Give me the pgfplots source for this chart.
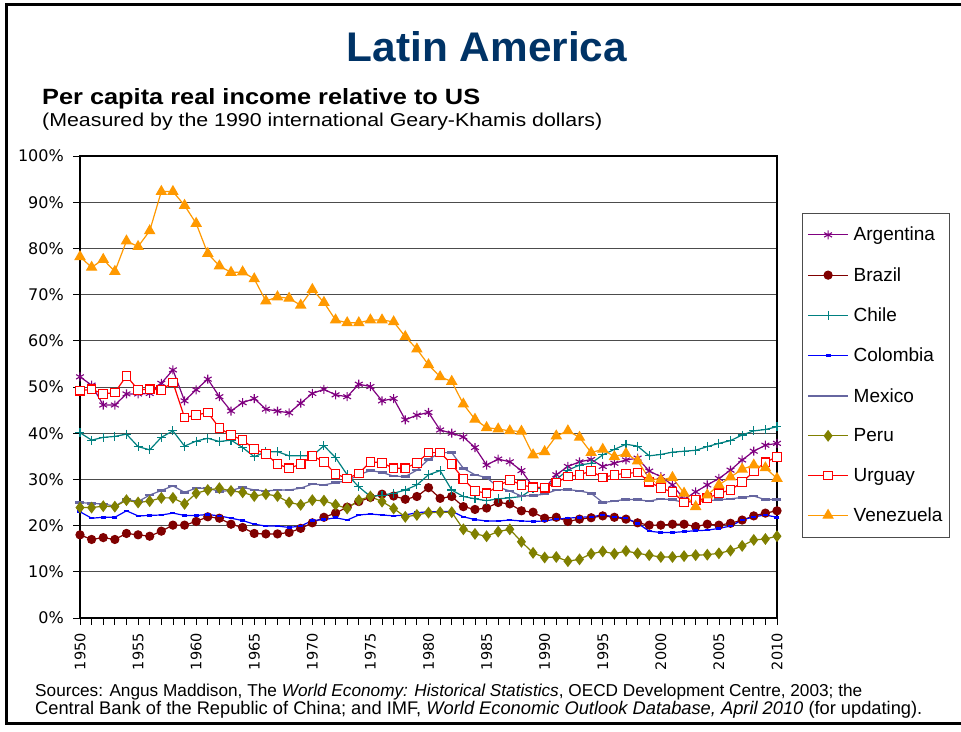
\documentclass[border=0pt]{standalone}
\usepackage{fontspec}
\setmainfont{Liberation Sans}
\newfontfamily\dejavu{DejaVu Sans}
\usepackage{pgfplots}
\usepackage{pgfplotstable}
\pgfplotsset{compat=1.18}
\definecolor{cArg}{RGB}{128,0,128}
\definecolor{cBra}{RGB}{128,0,0}
\definecolor{cChi}{RGB}{0,128,128}
\definecolor{cCol}{RGB}{0,0,255}
\definecolor{cMex}{RGB}{102,102,160}
\definecolor{cPer}{RGB}{128,128,0}
\definecolor{cUru}{RGB}{255,0,0}
\definecolor{cVen}{RGB}{255,153,0}
\definecolor{navy}{RGB}{0,51,102}
\pgfplotstableread{
year arg bra chi col mex per uru ven
1950 52.2 18.0 40.1 23.0 25.0 23.9 49.2 78.2
1951 50.4 17.0 38.5 21.6 24.8 23.9 49.5 75.9
1952 46.1 17.4 39.1 21.8 24.7 24.2 48.5 77.6
1953 46.1 17.0 39.3 21.8 24.2 24.1 48.8 75.0
1954 48.5 18.3 39.8 23.2 25.7 25.5 52.4 81.6
1955 48.5 18.0 37.1 22.1 25.2 25.0 49.4 80.4
1956 48.6 17.7 36.4 22.2 26.6 25.3 49.5 83.8
1957 50.8 18.8 39.1 22.3 27.6 26.0 49.4 92.3
1958 53.7 20.1 40.5 22.7 28.6 26.0 51.0 92.3
1959 47.0 20.1 37.2 22.2 27.2 24.7 43.4 89.3
1960 49.4 20.9 38.3 22.2 28.1 27.0 43.9 85.4
1961 51.7 21.9 38.9 22.4 28.1 27.7 44.5 78.9
1962 47.9 21.6 38.2 22.1 27.4 28.1 41.1 76.2
1963 44.8 20.3 38.5 21.6 27.6 27.5 39.6 74.8
1964 46.6 19.6 36.9 21.1 28.3 27.2 38.5 74.9
1965 47.5 18.3 34.9 20.3 27.7 26.4 36.6 73.4
1966 45.2 18.2 36.0 19.9 27.5 26.8 35.5 68.6
1967 44.8 18.2 36.0 19.9 27.7 26.4 33.3 69.5
1968 44.4 18.5 35.1 19.6 27.7 25.0 32.4 69.2
1969 46.5 19.4 35.1 19.9 28.1 24.5 33.3 67.7
1970 48.6 20.6 35.1 21.1 29.0 25.5 35.1 71.1
1971 49.5 21.8 37.3 21.3 28.8 25.4 33.8 68.3
1972 48.3 22.7 34.7 21.7 29.3 24.5 31.2 64.5
1973 47.9 24.0 31.0 21.2 29.7 23.7 30.2 63.9
1974 50.6 25.2 28.4 22.3 31.0 25.5 31.3 63.9
1975 50.1 26.1 26.3 22.5 31.9 26.3 33.8 64.5
1976 47.0 26.8 26.6 22.3 31.5 25.2 33.6 64.5
1977 47.5 26.4 27.0 22.1 30.7 23.7 32.4 64.1
1978 42.9 25.7 27.7 22.3 30.6 21.9 32.4 60.9
1979 43.9 26.3 28.8 22.8 32.0 22.3 33.6 58.2
1980 44.5 28.2 31.0 23.0 34.3 22.8 35.8 54.8
1981 40.7 25.9 31.9 23.0 35.8 22.9 35.8 52.2
1982 40.0 26.3 27.7 23.1 35.8 22.9 33.3 51.2
1983 39.2 24.1 26.3 21.9 32.4 19.2 30.1 46.3
1984 36.9 23.5 25.8 21.3 31.0 18.2 27.5 43.0
1985 33.1 23.8 25.4 21.0 30.4 17.7 27.0 41.2
1986 34.4 25.0 25.8 21.0 28.3 18.7 28.6 40.9
1987 33.8 24.7 26.0 21.2 27.5 19.2 29.9 40.5
1988 31.9 23.2 26.3 21.0 26.4 16.5 28.8 40.4
1989 28.4 22.9 28.0 20.9 26.5 14.1 28.3 35.3
1990 28.1 21.6 28.1 21.0 26.8 13.1 28.2 36.0
1991 31.0 21.8 30.0 21.4 27.7 13.2 29.3 39.4
1992 32.8 20.9 32.0 21.6 27.8 12.3 30.6 40.5
1993 33.8 21.4 33.1 21.8 27.5 12.7 31.0 39.1
1994 34.3 21.7 33.5 21.9 27.0 13.9 31.8 35.8
1995 32.8 22.1 35.3 22.3 25.0 14.4 30.4 36.5
1996 33.5 21.8 36.5 21.9 25.3 13.9 31.0 34.9
1997 34.2 21.4 37.6 21.6 25.7 14.5 31.3 35.6
1998 34.6 20.6 37.2 20.5 25.6 14.0 31.5 34.0
1999 31.8 20.1 35.1 18.8 25.3 13.6 29.5 30.2
2000 30.6 20.1 35.4 18.5 25.8 13.2 28.1 29.9
2001 28.8 20.3 35.9 18.5 25.6 13.2 27.3 30.4
2002 25.7 20.3 36.1 18.7 25.0 13.4 25.0 27.0
2003 27.3 19.8 36.3 18.9 25.2 13.6 25.5 24.1
2004 28.8 20.3 37.1 19.0 25.4 13.7 25.9 26.6
2005 30.2 20.1 37.8 19.4 25.6 14.0 27.0 28.8
2006 32.0 20.5 38.4 19.9 25.8 14.6 27.7 30.5
2007 34.2 21.2 39.6 21.2 26.1 15.6 29.4 32.2
2008 36.1 22.1 40.5 21.9 26.4 16.9 31.7 33.1
2009 37.4 22.7 40.8 22.3 25.6 17.1 33.7 32.5
2010 37.8 23.2 41.4 21.8 25.7 17.7 34.9 30.2
}\data
\begin{document}
\begin{tikzpicture}[x=1pt,y=1pt]
\useasboundingbox (0,0) rectangle (961,731);
\fill[white] (0,0) rectangle (961,731);
\draw[line width=3pt] (6,8) rectangle (990,726);
\node[anchor=base,text=navy,inner sep=0pt] at (487,669) {\resizebox{280pt}{30pt}{\bfseries Latin America}};
\node[anchor=base west,inner sep=0pt] at (42,626) {\resizebox{438pt}{16pt}{\bfseries Per capita real income relative to US}};
\node[anchor=base west,inner sep=0pt] at (42,604) {\resizebox{560pt}{13.5pt}{(Measured by the 1990 international Geary-Khamis dollars)}};
\node[anchor=base west,inner sep=0pt] at (35,35) {\resizebox{827pt}{!}{Sources: Angus Maddison, The \textit{World Economy: Historical Statistics}, OECD Development Centre, 2003; the}};
\node[anchor=base west,inner sep=0pt] at (35,17) {\resizebox{887pt}{!}{Central Bank of the Republic of China; and IMF, \textit{World Economic Outlook Database, April 2010} (for updating).}};
\begin{axis}[
  at={(80pt,113pt)}, anchor=south west,
  scale only axis, width=697pt, height=462pt,
  xmin=1950, xmax=2010, ymin=0, ymax=100,
  xtick={1950,1955,...,2010},
  xticklabels={1950,1955,1960,1965,1970,1975,1980,1985,1990,1995,2000,2005,2010},
  minor xtick={1950,1951,...,2010},
  ytick={0,10,...,100},
  yticklabels={0\%,10\%,20\%,30\%,40\%,50\%,60\%,70\%,80\%,90\%,100\%},
  tick pos=left, tick align=outside,
  major tick length=7pt, minor tick length=7pt,
  tick style={black, line width=0.8pt},
  ymajorgrids, major grid style={black!70, line width=0.9pt},
  axis line style={black, line width=1.3pt},
  xticklabel style={font=\dejavu\fontsize{14.5}{14.5}\selectfont, rotate=90, anchor=east, inner sep=0pt, xshift=-8pt},
  yticklabel style={font=\dejavu\fontsize{16}{16}\selectfont, inner sep=0pt, xshift=-9pt},
  legend image code/.code={\draw[mark repeat=2,mark phase=2,#1] plot coordinates {(0pt,0pt) (20pt,0pt) (40pt,0pt)};},
  legend style={at={(rel axis cs:1.036,0.877)}, anchor=north west, draw=black!70, line width=0.8pt,
    font=\fontsize{19}{19}\selectfont, row sep=21pt, column sep=3pt, inner xsep=5pt, inner ysep=12pt,
    nodes={inner sep=2pt}},
  legend cell align=left,
  every axis plot/.append style={line width=1.2pt},
]
\addplot[color=cArg, mark=asterisk, mark size=4.5pt, mark options={solid,line width=1.1pt}] table[x=year,y=arg]{\data};
\addlegendentry{Argentina}
\addplot[color=cBra, mark=*, mark size=4pt, mark options={solid,fill=cBra}] table[x=year,y=bra]{\data};
\addlegendentry{Brazil}
\addplot[color=cChi, mark=+, mark size=4.5pt, mark options={solid,line width=1.1pt}] table[x=year,y=chi]{\data};
\addlegendentry{Chile}
\addplot[color=cCol, mark=-, mark size=2.5pt, mark options={solid,line width=2.5pt}] table[x=year,y=col]{\data};
\addlegendentry{Colombia}
\addplot[color=cMex, mark=-, mark size=4.5pt, mark options={solid,line width=2.5pt}] table[x=year,y=mex]{\data};
\addlegendentry{Mexico}
\addplot[color=cPer, mark=diamond*, mark size=5pt, mark options={solid,fill=cPer}] table[x=year,y=per]{\data};
\addlegendentry{Peru}
\addplot[color=cUru, mark=square*, mark size=4.3pt, mark options={solid,fill=white,line width=1.1pt}] table[x=year,y=uru]{\data};
\addlegendentry{Urguay}
\addplot[color=cVen, mark=triangle*, mark size=5.5pt, mark options={solid,fill=cVen}] table[x=year,y=ven]{\data};
\addlegendentry{Venezuela}
\end{axis}
\end{tikzpicture}
\end{document}
